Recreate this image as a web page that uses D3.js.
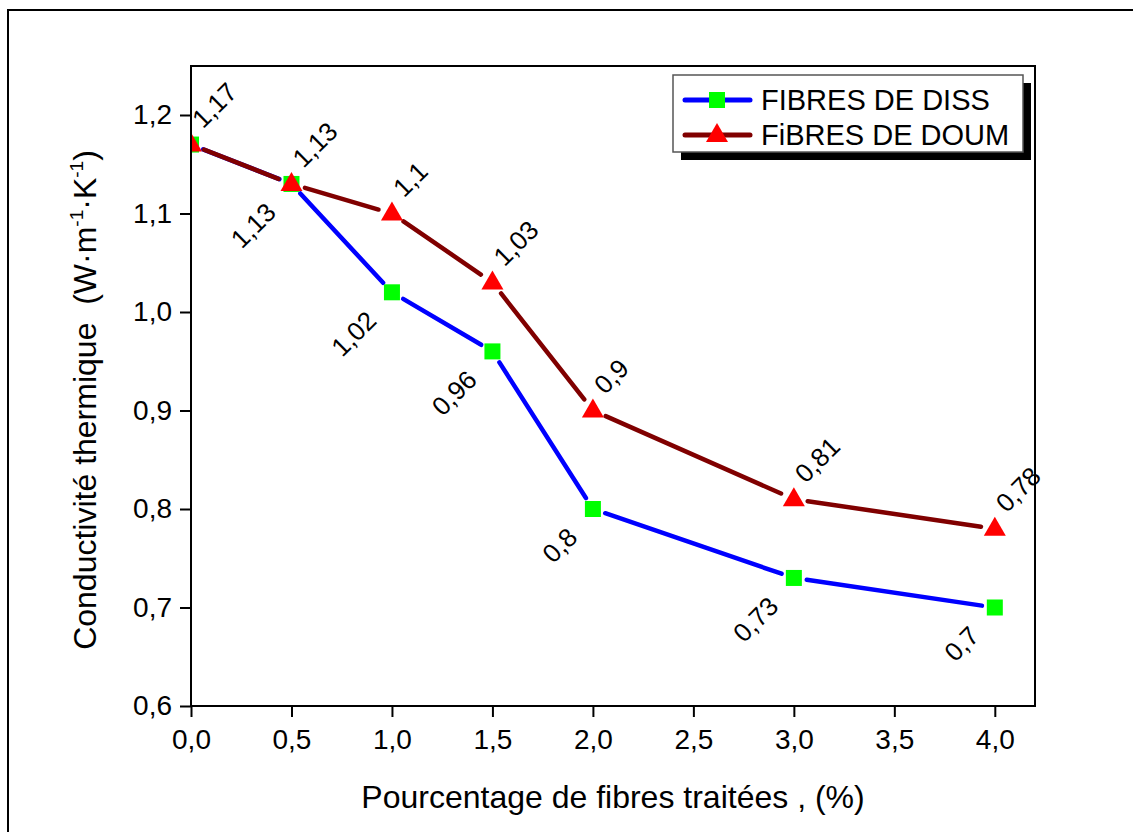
<!DOCTYPE html>
<html><head><meta charset="utf-8">
<script src="https://cdn.jsdelivr.net/npm/d3@7"></script>
<style>body{margin:0;background:#fff;} text{font-family:"Liberation Sans",Arial,sans-serif;fill:#000;}</style>
</head><body>
<svg id="c" width="1133" height="832"></svg>
<script>
const xValues = [0, 0.5, 1, 1.5, 2, 3, 4];
const dissValues = [1.17, 1.13, 1.02, 0.96, 0.8, 0.73, 0.7];
const doumValues = [1.17, 1.13, 1.1, 1.03, 0.9, 0.81, 0.78];
const dissLabels = ["", "1,13", "1,02", "0,96", "0,8", "0,73", "0,7"];
const doumLabels = ["1,17", "1,13", "1,1", "1,03", "0,9", "0,81", "0,78"];
const xTicks = [0, 0.5, 1, 1.5, 2, 2.5, 3, 3.5, 4];
const yTicks = [0.6, 0.7, 0.8, 0.9, 1.0, 1.1, 1.2];
const seriesNames = ["FIBRES DE DISS", "FiBRES DE DOUM"];

const svg = d3.select("#c");
const L = 191, T = 66, R = 1035, B = 706;
const x = d3.scaleLinear().domain([0, 4.2]).range([L, R]);
const y = d3.scaleLinear().domain([0.6, 1.2]).range([B, B - 591]);
const fmt = d => d3.format(".1f")(d).replace(".", ",");

// outer frame
svg.append("rect").attr("x", 8).attr("y", 10).attr("width", 1140).attr("height", 840)
  .attr("fill", "none").attr("stroke", "#000").attr("stroke-width", 2);

// axes
const xa = svg.append("g").attr("transform", `translate(0,${B})`)
  .call(d3.axisBottom(x).tickValues(xTicks).tickFormat(fmt).tickSize(11).tickPadding(12));
const ya = svg.append("g").attr("transform", `translate(${L},0)`)
  .call(d3.axisLeft(y).tickValues(yTicks).tickFormat(fmt).tickSize(11).tickPadding(8));
[xa, ya].forEach(g => {
  g.select(".domain").remove();
  g.selectAll("line").attr("stroke", "#000").attr("stroke-width", 2);
  g.selectAll("text").attr("font-size", 28).attr("font-family", "Liberation Sans, Arial, sans-serif");
});
xa.selectAll("text").attr("dy", "0.71em");

svg.append("defs").append("clipPath").attr("id", "clip")
  .append("rect").attr("x", L).attr("y", T).attr("width", R - L).attr("height", B - T);

const plot = svg.append("g").attr("clip-path", "url(#clip)");

function drawSeries(vals, color, gap, markerFn) {
  const pts = xValues.map((v, i) => [x(v), y(vals[i])]);
  for (let i = 0; i < pts.length - 1; i++) {
    const [x1, y1] = pts[i], [x2, y2] = pts[i + 1];
    const len = Math.hypot(x2 - x1, y2 - y1);
    const ux = (x2 - x1) / len, uy = (y2 - y1) / len;
    plot.append("line")
      .attr("x1", x1 + ux * gap).attr("y1", y1 + uy * gap)
      .attr("x2", x2 - ux * gap).attr("y2", y2 - uy * gap)
      .attr("stroke", color).attr("stroke-width", 4.5).attr("stroke-linecap", "round");
  }
  pts.forEach(p => markerFn(plot, p[0], p[1]));
}
const square = (g, cx, cy) => g.append("rect").attr("x", cx - 8).attr("y", cy - 8)
  .attr("width", 16).attr("height", 16).attr("fill", "#00ff00");
const triangle = (g, cx, cy) => g.append("path")
  .attr("d", `M${cx},${cy - 12}L${cx + 11},${cy + 7}L${cx - 11},${cy + 7}Z`).attr("fill", "#ff0000");

drawSeries(dissValues, "#0000ff", 13, square);
drawSeries(doumValues, "#800000", 14, triangle);

// data labels
xValues.forEach((v, i) => {
  if (dissLabels[i]) {
    svg.append("text").attr("transform", `translate(${x(v) - 14},${y(dissValues[i]) + 30}) rotate(-45)`)
      .attr("text-anchor", "end").attr("font-size", 26).text(dissLabels[i]);
  }
  svg.append("text").attr("transform", `translate(${x(v) + 12},${y(doumValues[i]) - 15}) rotate(-45)`)
    .attr("text-anchor", "start").attr("font-size", 26).text(doumLabels[i]);
});

// plot frame
svg.append("rect").attr("x", L).attr("y", T).attr("width", R - L).attr("height", B - T)
  .attr("fill", "none").attr("stroke", "#000").attr("stroke-width", 2);

// legend
const lg = svg.append("g");
lg.append("rect").attr("x", 681).attr("y", 83).attr("width", 350).attr("height", 77).attr("fill", "#000");
lg.append("rect").attr("x", 673).attr("y", 75).attr("width", 350).attr("height", 77)
  .attr("fill", "#fff").attr("stroke", "#555").attr("stroke-width", 1.5);
const lcolors = ["#0000ff", "#800000"];
[100, 135].forEach((ly, i) => {
  lg.append("line").attr("x1", 685).attr("x2", 750).attr("y1", ly).attr("y2", ly)
    .attr("stroke", lcolors[i]).attr("stroke-width", 5).attr("stroke-linecap", "round");
  if (i === 0) square(lg, 717, ly); else triangle(lg, 717, ly);
  lg.append("text").attr("x", 761).attr("y", ly + 10).attr("font-size", 29).text(seriesNames[i]);
});

// axis titles
svg.append("text").attr("x", 613).attr("y", 808).attr("text-anchor", "middle")
  .attr("font-size", 32).text("Pourcentage de fibres traitées , (%)");
const yt = svg.append("text").attr("transform", `translate(96,400) rotate(-90)`)
  .attr("text-anchor", "middle").attr("font-size", 32);
yt.append("tspan").text("Conductivité thermique\u00A0\u00A0(W·m");
yt.append("tspan").attr("font-size", 19).attr("dy", -13).text("-1");
yt.append("tspan").attr("dy", 13).text("·K");
yt.append("tspan").attr("font-size", 19).attr("dy", -13).text("-1");
yt.append("tspan").attr("dy", 13).text(")");
</script>
</body></html>
